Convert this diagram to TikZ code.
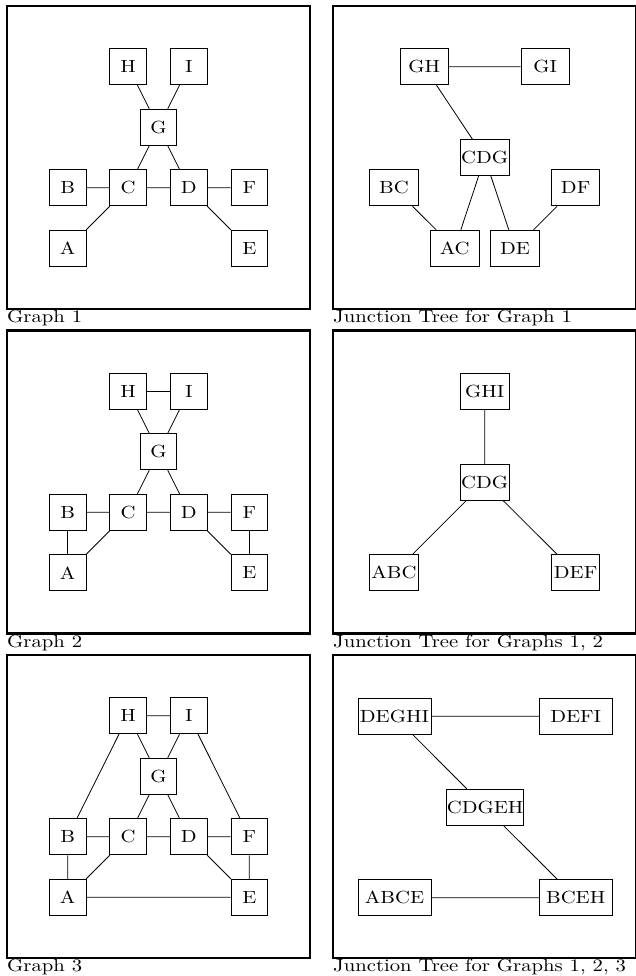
\documentclass[tikz,border=0pt]{standalone}
\usepackage{graphicx}
% text set at 10pt and enlarged, a little wider than tall
\newcommand\wtxt[1]{\scalebox{2.07}[1.76]{\fontsize{10}{12}\selectfont #1}}
\tikzset{
  panel/.style={draw, line width=2.4pt},
  vbox/.style={draw, line width=0.9pt, inner sep=0pt, minimum width=36.7pt,
    minimum height=36pt},
  cbox/.style={vbox, minimum width=48.5pt},
  wbox/.style={vbox, minimum width=73pt},
  edge/.style={line width=0.8pt},
  caption/.style={anchor=base west, inner sep=0pt}
}
% the nine variables of a graph panel, named with a prefix
\newcommand\varnodes[1]{%
  \node[vbox] (#1H) at (121.2,60.7)  {\wtxt{H}};
  \node[vbox] (#1I) at (181.8,60.7)  {\wtxt{I}};
  \node[vbox] (#1G) at (151.5,121.2) {\wtxt{G}};
  \node[vbox] (#1B) at (60.7,181.8)  {\wtxt{B}};
  \node[vbox] (#1C) at (121.2,181.8) {\wtxt{C}};
  \node[vbox] (#1D) at (181.8,181.8) {\wtxt{D}};
  \node[vbox] (#1F) at (242.3,181.8) {\wtxt{F}};
  \node[vbox] (#1A) at (60.7,242.3)  {\wtxt{A}};
  \node[vbox] (#1E) at (242.3,242.3) {\wtxt{E}};
  \draw[edge] (#1H) -- (#1G) (#1I) -- (#1G) (#1G) -- (#1C) (#1G) -- (#1D)
    (#1B) -- (#1C) (#1C) -- (#1D) (#1D) -- (#1F) (#1C) -- (#1A) (#1D) -- (#1E);
}
\begin{document}
\begin{tikzpicture}[x=1pt, y=-1pt]
\useasboundingbox (0,0) rectangle (636,976);

% ---- Graph 1 ----
\begin{scope}[shift={(7,6)}]
  \draw[panel] (0,0) rectangle (303,303);
  \varnodes{ga}
  \node[caption] (capga) at (0,316.7) {\wtxt{Graph 1}};
\end{scope}

% ---- Junction tree for graph 1 ----
\begin{scope}[shift={(333,6)}]
  \draw[panel] (0,0) rectangle (303,303);
  \node[cbox] (ja-gh)  at (91.2,60.7)   {\wtxt{GH}};
  \node[cbox] (ja-gi)  at (212.2,60.7)  {\wtxt{GI}};
  \node[cbox] (ja-cdg) at (151.7,151.7) {\wtxt{CDG}};
  \node[cbox] (ja-bc)  at (61,181.8)    {\wtxt{BC}};
  \node[cbox] (ja-df)  at (242.6,181.8) {\wtxt{DF}};
  \node[cbox] (ja-ac)  at (121.7,242.3) {\wtxt{AC}};
  \node[cbox] (ja-de)  at (182,242.3)   {\wtxt{DE}};
  \draw[edge] (ja-gh) -- (ja-gi) (ja-gh) -- (ja-cdg) (ja-cdg) -- (ja-ac)
    (ja-cdg) -- (ja-de) (ja-bc) -- (ja-ac) (ja-df) -- (ja-de);
  \node[caption] (capja) at (0,316.7) {\wtxt{Junction Tree for Graph 1}};
\end{scope}

% ---- Graph 2 ----
\begin{scope}[shift={(7,330.5)}]
  \draw[panel] (0,0) rectangle (303,303);
  \varnodes{gb}
  \draw[edge] (gbH) -- (gbI) (gbB) -- (gbA) (gbF) -- (gbE);
  \node[caption] (capgb) at (0,316.7) {\wtxt{Graph 2}};
\end{scope}

% ---- Junction tree for graphs 1, 2 ----
\begin{scope}[shift={(333,330.5)}]
  \draw[panel] (0,0) rectangle (303,303);
  \node[cbox] (jb-ghi) at (151.7,60.7)  {\wtxt{GHI}};
  \node[cbox] (jb-cdg) at (151.7,151.7) {\wtxt{CDG}};
  \node[cbox] (jb-abc) at (61,242.3)    {\wtxt{ABC}};
  \node[cbox] (jb-def) at (242.6,242.3) {\wtxt{DEF}};
  \draw[edge] (jb-ghi) -- (jb-cdg) (jb-cdg) -- (jb-abc) (jb-cdg) -- (jb-def);
  \node[caption] (capjb) at (0,316.7) {\wtxt{Junction Tree for Graphs 1, 2}};
\end{scope}

% ---- Graph 3 ----
\begin{scope}[shift={(7,655)}]
  \draw[panel] (0,0) rectangle (303,303);
  \varnodes{gc}
  \draw[edge] (gcH) -- (gcI) (gcB) -- (gcA) (gcF) -- (gcE)
    (gcH) -- (gcB) (gcI) -- (gcF) (gcA) -- (gcE);
  \node[caption] (capgc) at (0,316.7) {\wtxt{Graph 3}};
\end{scope}

% ---- Junction tree for graphs 1, 2, 3 ----
\begin{scope}[shift={(333,655)}]
  \draw[panel] (0,0) rectangle (303,303);
  \node[wbox] (jc-deghi) at (61.5,61.3)   {\wtxt{DEGHI}};
  \node[wbox] (jc-defi)  at (242.7,61.3)  {\wtxt{DEFI}};
  \node[wbox] (jc-cdgeh) at (152.2,152.3) {\wtxt{CDGEH}};
  \node[wbox] (jc-abce)  at (61.5,242.7)  {\wtxt{ABCE}};
  \node[wbox] (jc-bceh)  at (242.7,242.7) {\wtxt{BCEH}};
  \draw[edge] (jc-deghi) -- (jc-defi) (jc-deghi) -- (jc-cdgeh)
    (jc-cdgeh) -- (jc-bceh) (jc-abce) -- (jc-bceh);
  \node[caption] (capjc) at (0,316.7) {\wtxt{Junction Tree for Graphs 1, 2, 3}};
\end{scope}
\end{tikzpicture}
\end{document}
